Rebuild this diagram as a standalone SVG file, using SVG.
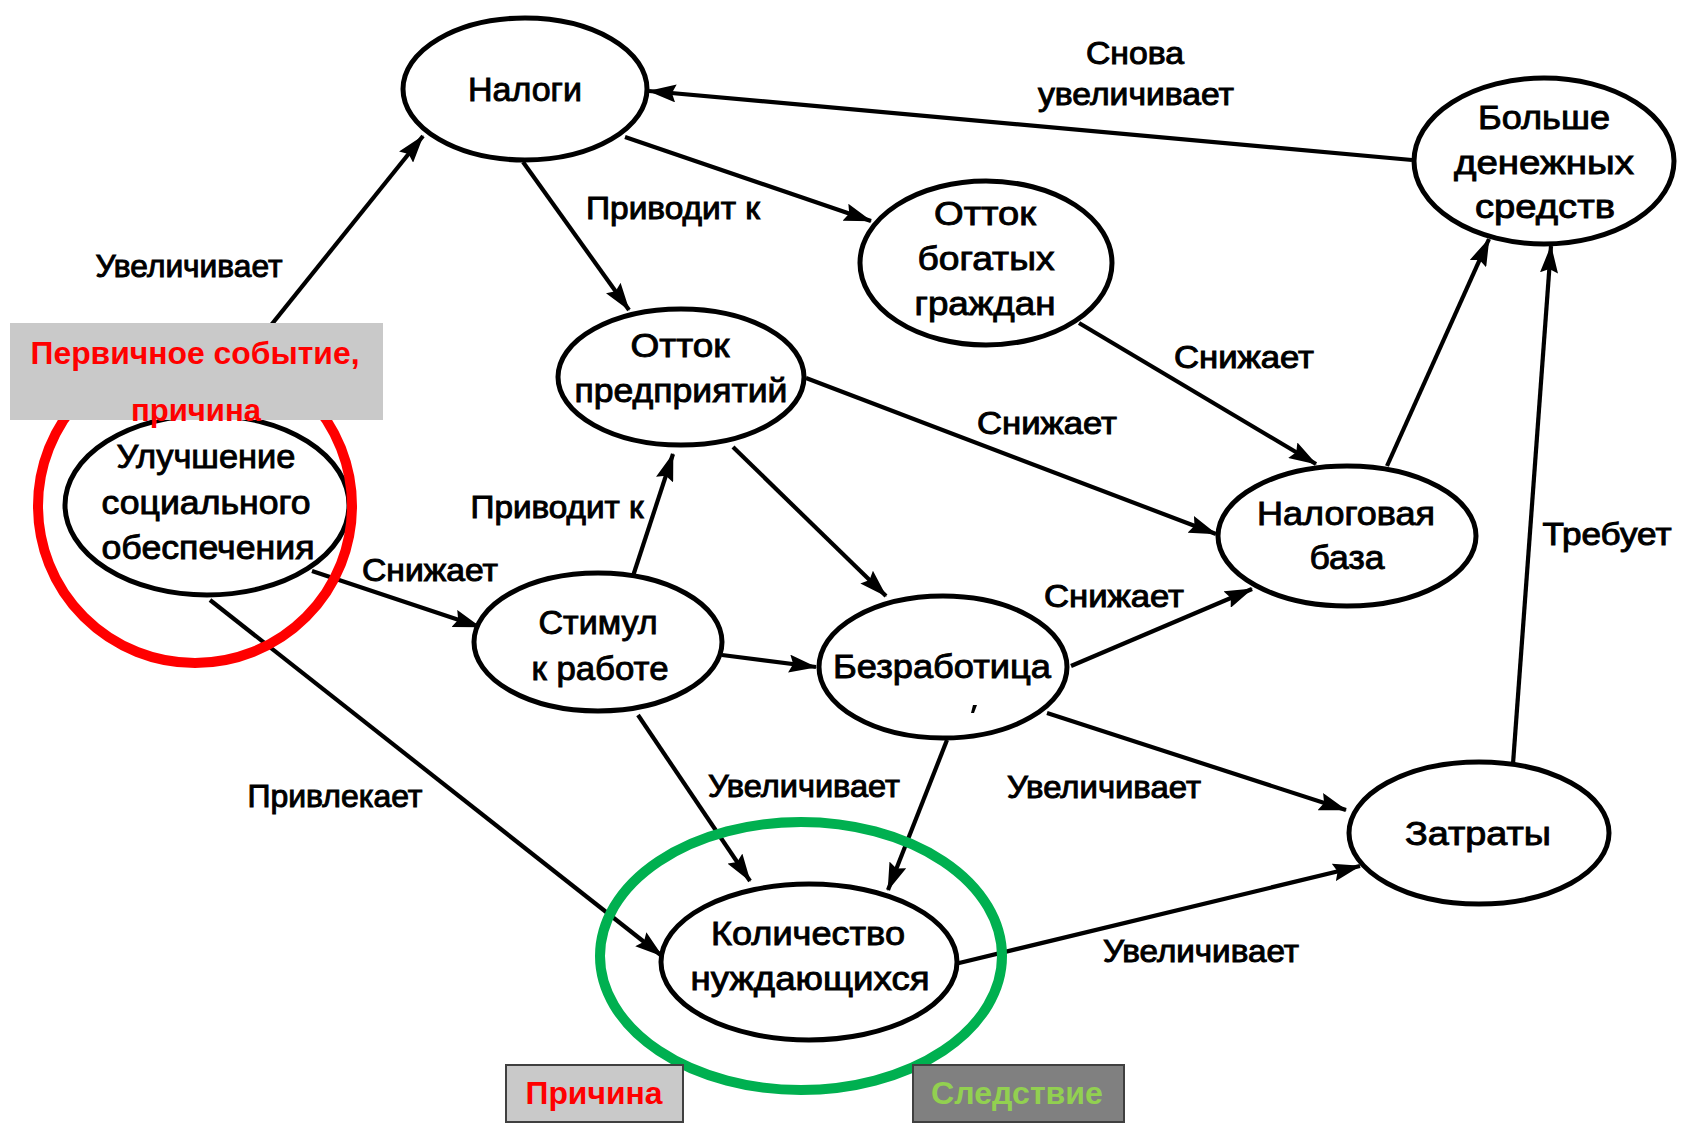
<svg xmlns="http://www.w3.org/2000/svg" width="1690" height="1125" viewBox="0 0 1690 1125">
<defs>
<marker id="arr" viewBox="0 0 28 18" refX="27" refY="9" markerWidth="28" markerHeight="18" markerUnits="userSpaceOnUse" orient="auto">
<path d="M0,0 L28,9 L0,18 L4,9 z" fill="#000"/>
</marker>
<style>
.node ellipse{fill:#fff;stroke:#000;stroke-width:5}
.t{font-family:"Liberation Sans",Arial,sans-serif;font-size:33px;fill:#000;text-anchor:middle;stroke:#000;stroke-width:0.9}
.lbl{font-family:"Liberation Sans",Arial,sans-serif;font-size:32px;fill:#000;text-anchor:middle;stroke:#000;stroke-width:1}
.edges line{stroke:#000;stroke-width:4.2;marker-end:url(#arr)}
.red{font-family:"Liberation Sans",Arial,sans-serif;font-weight:bold;font-size:31px;fill:#ff0000;text-anchor:middle}
</style>
</defs>
<rect width="1690" height="1125" fill="#fff"/>

<g id="connectors" class="edges">
<line x1="198" y1="416" x2="423" y2="136"/>
<line x1="523" y1="162" x2="629" y2="310"/>
<line x1="625" y1="137" x2="871" y2="221"/>
<line x1="1412" y1="160" x2="649" y2="91"/>
<line x1="1079" y1="323" x2="1316" y2="464"/>
<line x1="806" y1="378" x2="1216" y2="534"/>
<line x1="733" y1="447" x2="886" y2="596"/>
<line x1="1387" y1="466" x2="1489" y2="239"/>
<line x1="1513" y1="764" x2="1551" y2="246"/>
<line x1="312" y1="571" x2="480" y2="627"/>
<line x1="633" y1="576" x2="673" y2="454"/>
<line x1="722" y1="655" x2="816" y2="667"/>
<line x1="210" y1="600" x2="662" y2="956"/>
<line x1="638" y1="715" x2="750" y2="881"/>
<line x1="1071" y1="666" x2="1252" y2="589"/>
<line x1="1047" y1="713" x2="1346" y2="810"/>
<line x1="947" y1="740" x2="888" y2="890"/>
<line x1="955" y1="964" x2="1360" y2="866"/>
</g>

<g id="edge-labels">
<text class="lbl" x="1135" y="64" textLength="98" lengthAdjust="spacingAndGlyphs">Снова</text>
<text class="lbl" x="1136" y="105" textLength="196" lengthAdjust="spacingAndGlyphs">увеличивает</text>
<text class="lbl" x="673" y="219" textLength="174" lengthAdjust="spacingAndGlyphs">Приводит к</text>
<text class="lbl" x="189" y="277" textLength="187" lengthAdjust="spacingAndGlyphs">Увеличивает</text>
<text class="lbl" x="1244" y="368" textLength="140" lengthAdjust="spacingAndGlyphs">Снижает</text>
<text class="lbl" x="1047" y="434" textLength="140" lengthAdjust="spacingAndGlyphs">Снижает</text>
<text class="lbl" x="557" y="518" textLength="173" lengthAdjust="spacingAndGlyphs">Приводит к</text>
<text class="lbl" x="430" y="581" textLength="136" lengthAdjust="spacingAndGlyphs">Снижает</text>
<text class="lbl" x="1114" y="607" textLength="140" lengthAdjust="spacingAndGlyphs">Снижает</text>
<text class="lbl" x="1607" y="545" textLength="129" lengthAdjust="spacingAndGlyphs">Требует</text>
<text class="lbl" x="335" y="807" textLength="175" lengthAdjust="spacingAndGlyphs">Привлекает</text>
<text class="lbl" x="804" y="797" textLength="192" lengthAdjust="spacingAndGlyphs">Увеличивает</text>
<text class="lbl" x="1104" y="798" textLength="194" lengthAdjust="spacingAndGlyphs">Увеличивает</text>
<text class="lbl" x="1201" y="962" textLength="196" lengthAdjust="spacingAndGlyphs">Увеличивает</text>
</g>

<g id="node-taxes" class="node">
<ellipse cx="525" cy="89" rx="122" ry="71"/>
<text class="t" x="525" y="101" textLength="114" lengthAdjust="spacingAndGlyphs">Налоги</text>
</g>
<g id="node-rich-outflow" class="node">
<ellipse cx="986" cy="263" rx="126" ry="82"/>
<text class="t" x="985" y="225" textLength="102" lengthAdjust="spacingAndGlyphs">Отток</text>
<text class="t" x="986" y="270" textLength="137" lengthAdjust="spacingAndGlyphs">богатых</text>
<text class="t" x="985" y="315" textLength="141" lengthAdjust="spacingAndGlyphs">граждан</text>
</g>
<g id="node-more-money" class="node">
<ellipse cx="1544" cy="161" rx="130" ry="83"/>
<text class="t" x="1544" y="129" textLength="132" lengthAdjust="spacingAndGlyphs">Больше</text>
<text class="t" x="1544" y="174" textLength="180" lengthAdjust="spacingAndGlyphs">денежных</text>
<text class="t" x="1545" y="218" textLength="140" lengthAdjust="spacingAndGlyphs">средств</text>
</g>
<g id="node-business-outflow" class="node">
<ellipse cx="681" cy="377" rx="123" ry="68"/>
<text class="t" x="680" y="357" textLength="99" lengthAdjust="spacingAndGlyphs">Отток</text>
<text class="t" x="681" y="402" textLength="213" lengthAdjust="spacingAndGlyphs">предприятий</text>
</g>
<g id="node-welfare" class="node">
<ellipse cx="207" cy="505" rx="142" ry="90"/>
<text class="t" x="206" y="468" textLength="179" lengthAdjust="spacingAndGlyphs">Улучшение</text>
<text class="t" x="206" y="514" textLength="209" lengthAdjust="spacingAndGlyphs">социального</text>
<text class="t" x="208" y="559" textLength="213" lengthAdjust="spacingAndGlyphs">обеспечения</text>
</g>
<g id="node-tax-base" class="node">
<ellipse cx="1347" cy="536" rx="129" ry="70"/>
<text class="t" x="1346" y="525" textLength="178" lengthAdjust="spacingAndGlyphs">Налоговая</text>
<text class="t" x="1347" y="569" textLength="75" lengthAdjust="spacingAndGlyphs">база</text>
</g>
<g id="node-incentive" class="node">
<ellipse cx="598" cy="642" rx="124" ry="69"/>
<text class="t" x="598" y="634" textLength="119" lengthAdjust="spacingAndGlyphs">Стимул</text>
<text class="t" x="600" y="680" textLength="137" lengthAdjust="spacingAndGlyphs">к работе</text>
</g>
<g id="node-unemployment" class="node">
<ellipse cx="943" cy="667" rx="124" ry="71"/>
<text class="t" x="942" y="678" textLength="218" lengthAdjust="spacingAndGlyphs">Безработица</text>
<path d="M973,705 l4,0 l-3,8 l-3,0 z" fill="#000"/>
</g>
<g id="node-needy" class="node">
<ellipse cx="809" cy="962" rx="148" ry="78"/>
<text class="t" x="808" y="945" textLength="194" lengthAdjust="spacingAndGlyphs">Количество</text>
<text class="t" x="810" y="990" textLength="239" lengthAdjust="spacingAndGlyphs">нуждающихся</text>
</g>
<g id="node-costs" class="node">
<ellipse cx="1479" cy="833" rx="130" ry="71"/>
<text class="t" x="1478" y="845" textLength="146" lengthAdjust="spacingAndGlyphs">Затраты</text>
</g>

<g id="highlight-cause">
<ellipse cx="195" cy="506" rx="157" ry="157" fill="none" stroke="#ff0000" stroke-width="10"/>
</g>
<g id="highlight-effect">
<ellipse cx="801" cy="956" rx="201" ry="134" fill="none" stroke="#00b050" stroke-width="10"/>
</g>

<g id="primary-event-label">
<rect x="10" y="323" width="373" height="97" fill="#c9c9c9"/>
<text class="red" x="195" y="364" textLength="329" lengthAdjust="spacingAndGlyphs">Первичное событие,</text>
<text class="red" x="196" y="421" textLength="130" lengthAdjust="spacingAndGlyphs">причина</text>
</g>

<g id="cause-box">
<rect x="506" y="1065" width="177" height="57" fill="#c9c9c9" stroke="#404040" stroke-width="2"/>
<text class="red" x="594" y="1104" textLength="137" lengthAdjust="spacingAndGlyphs">Причина</text>
</g>
<g id="effect-box">
<rect x="913" y="1065" width="211" height="57" fill="#808080" stroke="#404040" stroke-width="2"/>
<text class="red" x="1017" y="1104" textLength="172" lengthAdjust="spacingAndGlyphs" style="fill:#92d050">Следствие</text>
</g>
</svg>
